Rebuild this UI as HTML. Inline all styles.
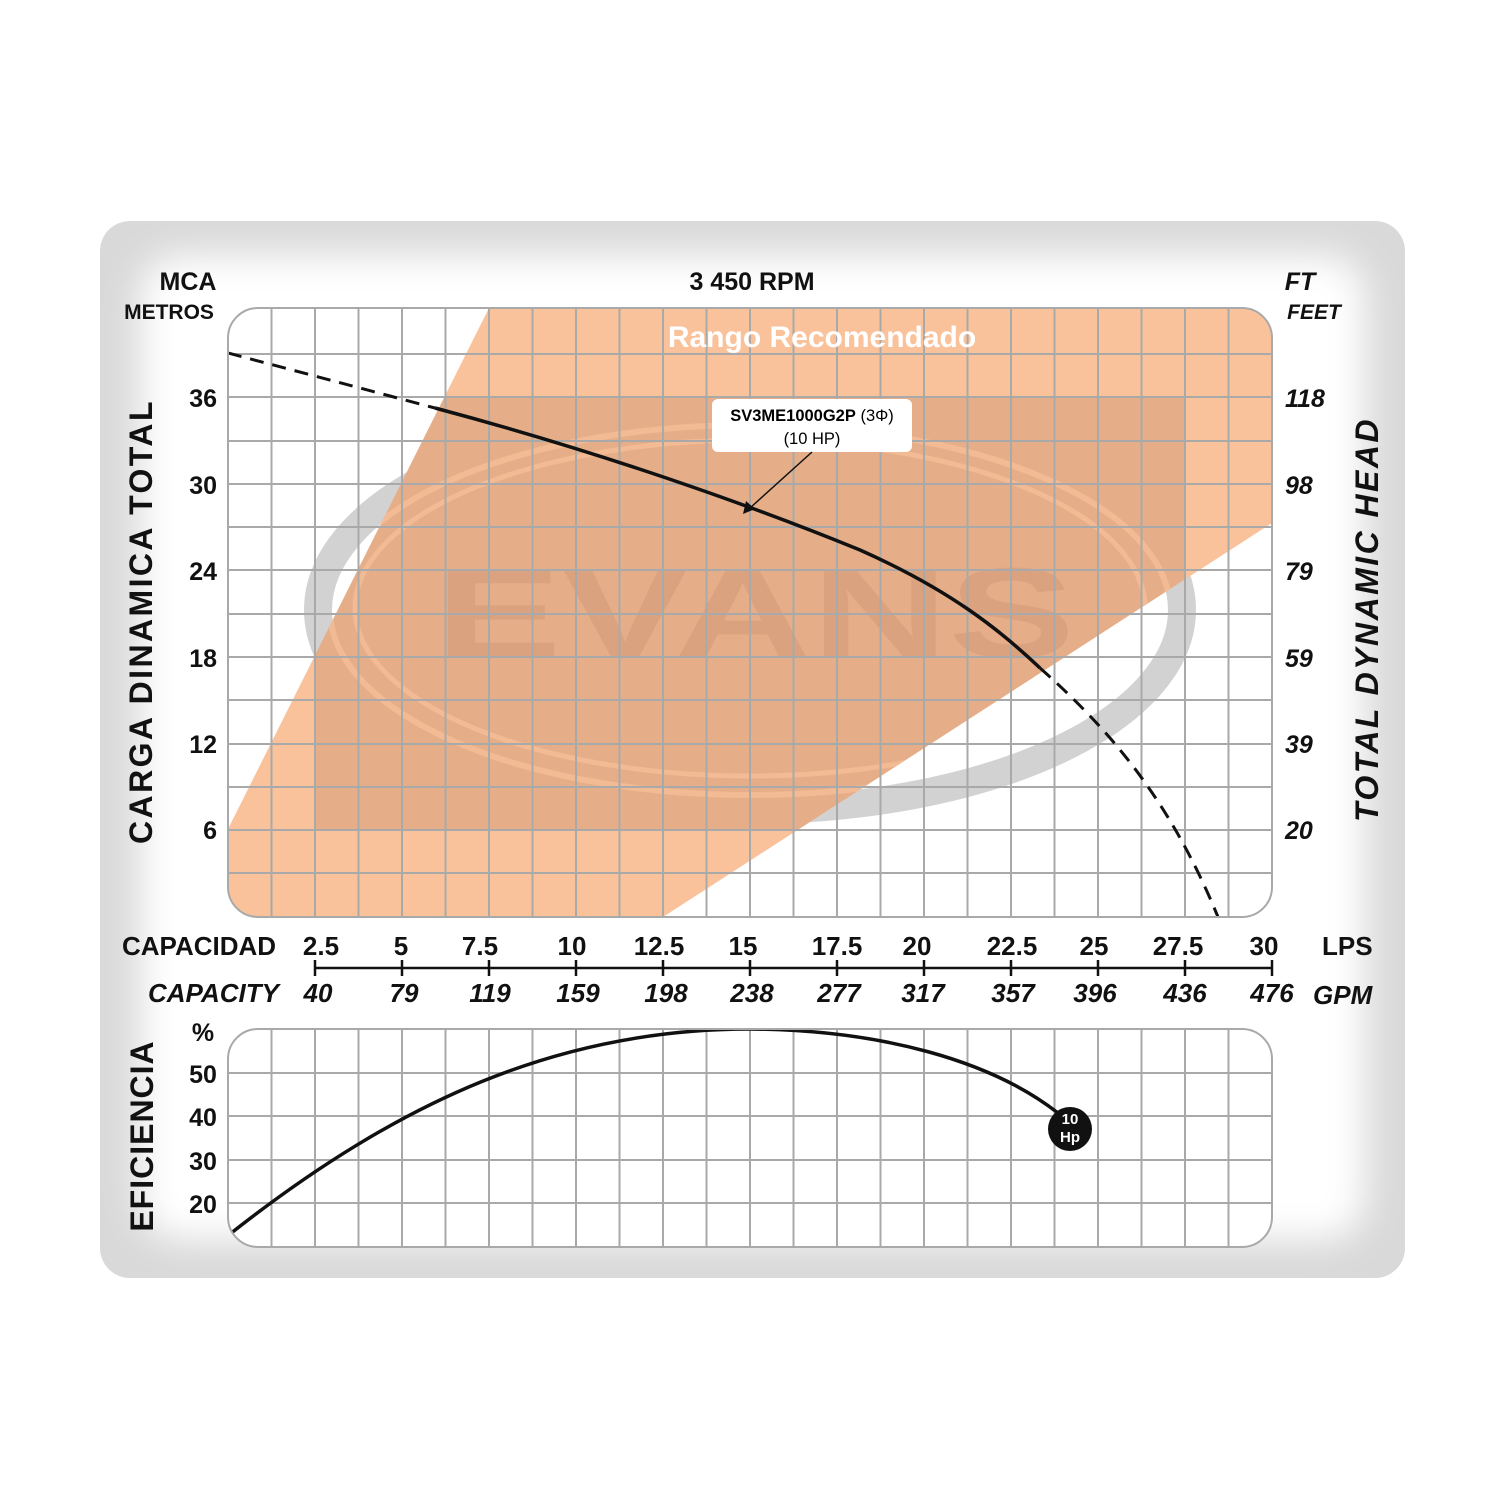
<!DOCTYPE html>
<html><head><meta charset="utf-8"><style>
html,body{margin:0;padding:0;background:#fff;}
svg{display:block;font-family:"Liberation Sans",Arial,sans-serif;}
</style></head><body>
<svg width="1500" height="1500" viewBox="0 0 1500 1500" xmlns="http://www.w3.org/2000/svg">
<defs>
<filter id="blur" x="-10%" y="-10%" width="120%" height="120%"><feGaussianBlur stdDeviation="18"/></filter>
<clipPath id="plot"><rect x="228" y="308" width="1044" height="609" rx="30"/></clipPath>
<clipPath id="orange"><polygon points="228,829 489,308 1272,308 1272,523 663,917 228,917"/></clipPath>
<clipPath id="eff"><rect x="228" y="1029" width="1044" height="218" rx="30"/></clipPath>
</defs>
<rect x="100" y="221" width="1305" height="1057" rx="30" fill="#d9d9d9"/>
<rect x="140" y="255" width="1225" height="985" rx="40" fill="#fff" filter="url(#blur)"/>

<g clip-path="url(#plot)">
<rect x="228" y="308" width="1044" height="609" fill="#fff"/>
<ellipse cx="750" cy="610" rx="432" ry="200" fill="none" stroke="#d2d2d2" stroke-width="28"/>
<polygon points="228,829 489,308 1272,308 1272,523 663,917 228,917" fill="#f9c29b"/>
<g clip-path="url(#orange)">
<rect x="315" y="397" width="870" height="433" fill="#e5ae89"/>
<ellipse cx="750" cy="610" rx="420" ry="185" fill="none" stroke="#f2bb94" stroke-width="6"/>
<ellipse cx="750" cy="608" rx="395" ry="168" fill="none" stroke="#f2bb94" stroke-width="5"/>
</g>
<text x="755" y="657" text-anchor="middle" font-size="128" font-weight="bold" fill="#d8a07c" fill-opacity="0.85" textLength="640" lengthAdjust="spacingAndGlyphs">EVANS</text>
<g stroke="#a9a9a9" stroke-width="2" fill="none">
<path d="M271.5 308V917M315 308V917M358.5 308V917M402 308V917M445.5 308V917M489 308V917M532.5 308V917M576 308V917M619.5 308V917M663 308V917M706.5 308V917M750 308V917M793.5 308V917M837 308V917M880.5 308V917M924 308V917M967.5 308V917M1011 308V917M1054.5 308V917M1098 308V917M1141.5 308V917M1185 308V917M1228.5 308V917"/>
<path d="M228 354H1272M228 397H1272M228 441H1272M228 484H1272M228 527H1272M228 570H1272M228 614H1272M228 657H1272M228 700H1272M228 744H1272M228 787H1272M228 830H1272M228 873H1272"/>
</g>
<text x="822" y="347" text-anchor="middle" font-size="30" font-weight="bold" fill="#fff">Rango Recomendado</text>
<path d="M228 353 Q330 380 435 408" fill="none" stroke="#111" stroke-width="3" stroke-dasharray="14,9"/>
<path d="M435 408 C600 452 750 505 860 550 C950 590 1000 630 1040 668" fill="none" stroke="#111" stroke-width="3.5"/>
<path d="M1040 668 C1110 730 1170 800 1218 917" fill="none" stroke="#111" stroke-width="3" stroke-dasharray="14,9"/>
</g>
<rect x="228" y="308" width="1044" height="609" rx="30" fill="none" stroke="#a9a9a9" stroke-width="2"/>
<rect x="712" y="399" width="200" height="53" rx="6" fill="#fff"/>
<text x="812" y="421" text-anchor="middle" font-size="16.5"><tspan font-weight="bold">SV3ME1000G2P</tspan> (3Φ)</text>
<text x="812" y="444" text-anchor="middle" font-size="16.5">(10 HP)</text>
<line x1="812" y1="452" x2="750" y2="508" stroke="#111" stroke-width="1.5"/>
<polygon points="743,514 746,501 755,509" fill="#111"/>

<g font-weight="bold" fill="#111">
<text x="188" y="290" text-anchor="middle" font-size="25">MCA</text>
<text x="169" y="319" text-anchor="middle" font-size="21">METROS</text>
<text x="752" y="290" text-anchor="middle" font-size="25">3 450 RPM</text>
<text x="1300" y="290" text-anchor="middle" font-size="25" font-style="italic">FT</text>
<text x="1314" y="319" text-anchor="middle" font-size="21" font-style="italic">FEET</text>
<g font-size="25" text-anchor="end">
<text x="217" y="407">36</text><text x="217" y="494">30</text><text x="217" y="580">24</text>
<text x="217" y="667">18</text><text x="217" y="753">12</text><text x="217" y="839">6</text>
</g>
<g font-size="25" font-style="italic" text-anchor="start">
<text x="1285" y="407">118</text><text x="1285" y="494">98</text><text x="1285" y="580">79</text>
<text x="1285" y="667">59</text><text x="1285" y="753">39</text><text x="1285" y="839">20</text>
</g>
<text transform="translate(152,622) rotate(-90)" text-anchor="middle" font-size="32" letter-spacing="1.5" textLength="444" lengthAdjust="spacing">CARGA  DINAMICA  TOTAL</text>
<text transform="translate(1378,620) rotate(-90)" text-anchor="middle" font-size="32" font-style="italic" letter-spacing="1.5" textLength="404" lengthAdjust="spacing">TOTAL  DYNAMIC  HEAD</text>
<text x="122" y="955" font-size="26">CAPACIDAD</text>
<g font-size="26" text-anchor="middle">
<text x="321" y="955">2.5</text><text x="401" y="955">5</text><text x="480" y="955">7.5</text>
<text x="572" y="955">10</text><text x="659" y="955">12.5</text><text x="743" y="955">15</text>
<text x="837" y="955">17.5</text><text x="917" y="955">20</text><text x="1012" y="955">22.5</text>
<text x="1094" y="955">25</text><text x="1178" y="955">27.5</text><text x="1264" y="955">30</text>
</g>
<text x="1322" y="955" font-size="26">LPS</text>
<text x="148" y="1002" font-size="26" font-style="italic">CAPACITY</text>
<g font-size="26" font-style="italic" text-anchor="middle">
<text x="318" y="1002">40</text><text x="404" y="1002">79</text><text x="490" y="1002">119</text>
<text x="578" y="1002">159</text><text x="666" y="1002">198</text><text x="752" y="1002">238</text>
<text x="839" y="1002">277</text><text x="923" y="1002">317</text><text x="1013" y="1002">357</text>
<text x="1095" y="1002">396</text><text x="1185" y="1002">436</text><text x="1272" y="1002">476</text>
</g>
<text x="1313" y="1004" font-size="26" font-style="italic">GPM</text>
<g font-size="25" text-anchor="middle">
<text x="203" y="1041">%</text>
<text x="203" y="1083">50</text><text x="203" y="1126">40</text><text x="203" y="1170">30</text><text x="203" y="1213">20</text>
</g>
<text transform="translate(153,1136) rotate(-90)" text-anchor="middle" font-size="32" letter-spacing="1">EFICIENCIA</text>
</g>
<line x1="315" y1="968" x2="1272" y2="968" stroke="#111" stroke-width="2.5"/>
<path d="M315 960V976M402 960V976M489 960V976M576 960V976M663 960V976M750 960V976M837 960V976M924 960V976M1011 960V976M1098 960V976M1185 960V976M1272 960V976" stroke="#111" stroke-width="2.5"/>

<g clip-path="url(#eff)">
<rect x="228" y="1029" width="1044" height="218" fill="#fff"/>
<g stroke="#a9a9a9" stroke-width="2" fill="none">
<path d="M271.5 1029V1247M315 1029V1247M358.5 1029V1247M402 1029V1247M445.5 1029V1247M489 1029V1247M532.5 1029V1247M576 1029V1247M619.5 1029V1247M663 1029V1247M706.5 1029V1247M750 1029V1247M793.5 1029V1247M837 1029V1247M880.5 1029V1247M924 1029V1247M967.5 1029V1247M1011 1029V1247M1054.5 1029V1247M1098 1029V1247M1141.5 1029V1247M1185 1029V1247M1228.5 1029V1247"/>
<path d="M228 1073H1272M228 1116H1272M228 1160H1272M228 1203H1272"/>
</g>
<path d="M230 1234 C400 1100 560 1029 750 1029 C880 1030 990 1060 1058 1113" fill="none" stroke="#111" stroke-width="3.5"/>
</g>
<rect x="228" y="1029" width="1044" height="218" rx="30" fill="none" stroke="#a9a9a9" stroke-width="2"/>
<circle cx="1070" cy="1129" r="22" fill="#111"/>
<text x="1070" y="1124" text-anchor="middle" font-size="15" font-weight="bold" fill="#fff">10</text>
<text x="1070" y="1142" text-anchor="middle" font-size="15" font-weight="bold" fill="#fff">Hp</text>
</svg>
</body></html>
